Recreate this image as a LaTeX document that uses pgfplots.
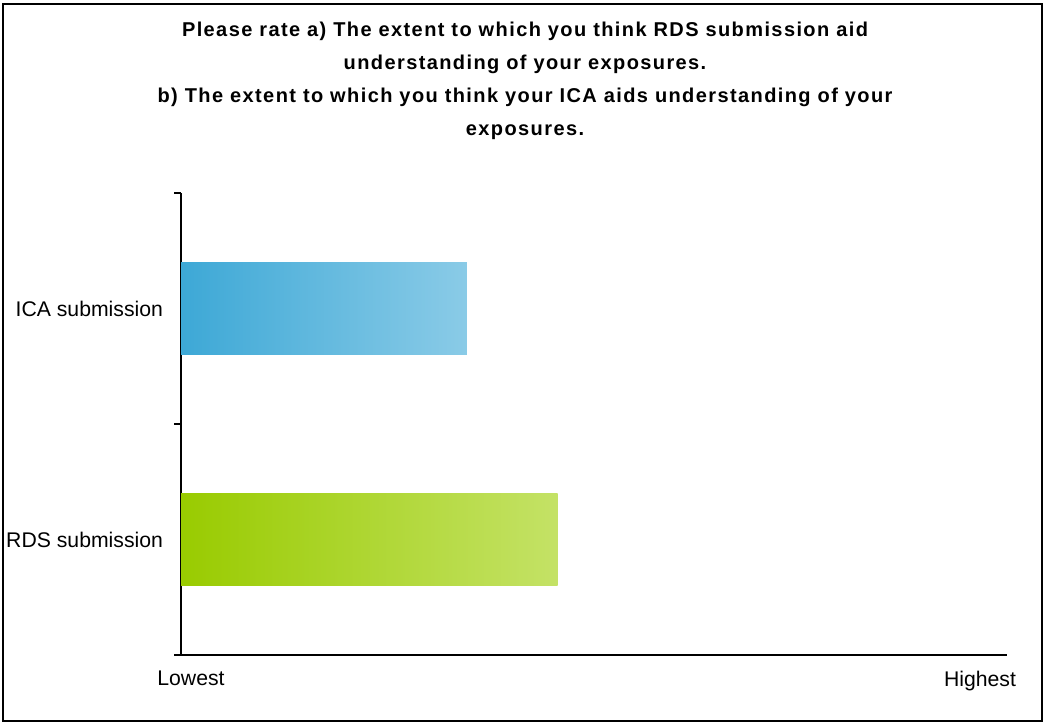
\documentclass[border=0pt]{standalone}
\usepackage{pgfplots}
\pgfplotsset{compat=1.18}
\usepackage{fontspec}
\setmainfont{Liberation Sans}
\newfontfamily\titlefont{Liberation Sans}[LetterSpace=7]
\definecolor{icaL}{HTML}{3DA8D6}
\definecolor{icaR}{HTML}{8ACBE7}
\definecolor{rdsL}{HTML}{99CB00}
\definecolor{rdsR}{HTML}{C4E266}
\begin{document}
\begin{tikzpicture}
\path[use as bounding box] (0,0) rectangle (524pt,362pt);
\draw[line width=1pt] (1.5pt,1.5pt) rectangle (521pt,360pt);
\node[align=center, font=\titlefont\bfseries\fontsize{10}{16.5}\selectfont] at (262.5pt,321.5pt)
  {Please rate a) The extent to which you think RDS submission aid\\
   understanding of your exposures.\\
   b) The extent to which you think your ICA aids understanding of your\\
   exposures.};
\begin{axis}[
  at={(90.5pt,34.5pt)}, anchor=south west,
  scale only axis, width=413pt, height=231pt,
  xmin=0, xmax=1, ymin=-0.5, ymax=1.5,
  axis x line*=bottom, axis y line*=left,
  axis line style={line width=1pt, -},
  xtick={0.0121,0.9673}, xticklabels={Lowest,Highest},
  ytick={0,1}, yticklabels={RDS submission,ICA submission},
  minor ytick={-0.5,0.5,1.5},
  major tick length=0pt,
  minor tick length=3.5pt, tick align=outside,
  every minor tick/.append style={line width=1pt, black},
  ticklabel style={font=\fontsize{10.6}{12}\selectfont},
  yticklabel style={xshift=-5.5pt},
  xticklabel style={yshift=-4.5pt},
  xbar, bar width=46pt, bar shift=0pt,
]
\addplot[draw=none, left color=rdsL, right color=rdsR] coordinates {(0.456,0)};
\addplot[draw=none, left color=icaL, right color=icaR] coordinates {(0.346,1)};
\end{axis}
\end{tikzpicture}
\end{document}
